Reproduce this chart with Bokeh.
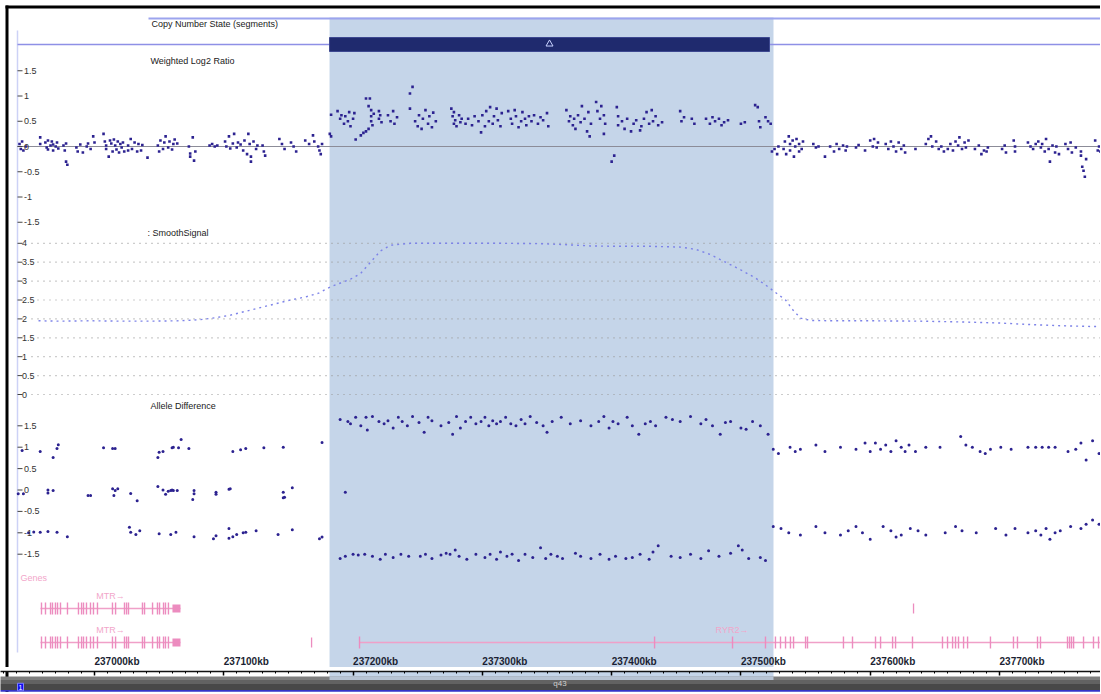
from bokeh.plotting import figure
from bokeh.models import Range1d, LinearAxis, SingleIntervalTicker, BoxAnnotation, CustomLabelingPolicy
from bokeh.layouts import column
from bokeh.core.properties import value
from bokeh.embed import file_html
from bokeh.resources import INLINE

# ---------------- data (kb positions on chr1) ----------------
CN_SEG_START = [237181.8]
CN_SEG_END = [237522.1]
SELECTION_KB = [237181.8, 237525.2]

LOG2_TICKS = [1.5, 1, 0.5, 0, -0.5, -1, -1.5]
SMOOTH_TICKS = [4, 3.5, 3, 2.5, 2, 1.5, 1, 0.5, 0]
ALLELE_TICKS = [1.5, 1, 0.5, 0, -0.5, -1, -1.5]
X_TICKS_KB = [237000, 237100, 237200, 237300, 237400, 237500, 237600, 237700]
X_TICK_LABELS = ["237000kb", "237100kb", "237200kb", "237300kb", "237400kb", "237500kb", "237600kb", "237700kb"]

LOG2_LEFT = [
    (236942, 0.05), (236943, -0.05), (236944, 0.10), (236945, -0.08), (236947, 0.00),
    (236958, 0.18), (236958, 0.05),
    (236962, 0.08), (236963, -0.02), (236964, 0.12), (236964, -0.06), (236966, 0.02), (236967, 0.10),
    (236968, -0.08), (236968, 0.04), (236970, 0.00), (236971, 0.08), (236972, -0.04),
    (236976, 0.02), (236977, -0.08), (236978, -0.30), (236979, -0.36), (236978, 0.06),
    (236986, -0.02), (236987, -0.10), (236989, 0.04), (236991, -0.12),
    (236994, 0.00), (236995, 0.06), (236997, -0.05), (236999, 0.20), (237000, 0.08),
    (237007, 0.25), (237008, 0.10), (237009, -0.05), (237009, 0.02), (237011, -0.20), (237012, 0.12),
    (237013, 0.06), (237014, -0.10), (237015, 0.14), (237016, 0.02), (237017, -0.06), (237018, 0.10),
    (237019, -0.12), (237020, 0.05), (237021, -0.02), (237022, 0.08), (237023, -0.10),
    (237026, 0.02), (237026, -0.08), (237028, 0.15), (237029, -0.05), (237031, 0.08), (237033, -0.10),
    (237034, 0.05), (237036, -0.08), (237037, 0.03),
    (237041, -0.22),
    (237049, 0.02), (237050, -0.10), (237051, 0.12), (237053, -0.05), (237054, 0.08), (237055, 0.20),
    (237057, -0.02), (237058, 0.10), (237060, -0.06), (237061, 0.05), (237062, 0.14),
    (237064, 0.06),
    (237073, 0.00), (237074, -0.14), (237074, -0.20), (237076, 0.18), (237077, -0.28), (237078, -0.10),
    (237089, 0.02), (237091, 0.05), (237093, 0.00), (237095, 0.02),
    (237101, 0.10), (237102, 0.00), (237104, 0.20), (237105, -0.04), (237107, 0.06), (237108, 0.25),
    (237110, -0.02), (237111, 0.08),
    (237113, 0.04), (237115, -0.08), (237116, 0.12), (237118, -0.15), (237119, 0.25), (237120, 0.05),
    (237121, -0.20), (237121, -0.30), (237123, 0.10), (237125, -0.05), (237126, 0.02),
    (237130, 0.02), (237131, -0.10), (237132, -0.18),
    (237143, 0.15), (237145, 0.05), (237147, -0.05),
    (237152, 0.08), (237154, 0.00), (237156, -0.10),
    (237163, 0.12), (237166, 0.05), (237169, 0.22), (237170, 0.10),
    (237173, 0.00), (237174, -0.08), (237175, -0.15), (237176, 0.05),
    (237182, 0.25),
]
LOG2_GAIN = [
    (237183, 0.63), (237183, 0.20),
    (237188, 0.70), (237190, 0.55), (237191, 0.62), (237193, 0.45), (237194, 0.60), (237196, 0.50),
    (237197, 0.68), (237198, 0.40), (237200, 0.55), (237201, 0.66), (237202, 0.14),
    (237206, 0.22), (237208, 0.27), (237210, 0.30), (237212, 0.35),
    (237210, 0.95), (237213, 0.95), (237212, 0.80),
    (237214, 0.72), (237214, 0.60), (237214, 0.50), (237215, 0.42), (237216, 0.65),
    (237220, 0.70), (237220, 0.55), (237221, 0.62), (237222, 0.48),
    (237227, 0.62), (237229, 0.50), (237231, 0.70), (237232, 0.45), (237234, 0.58),
    (237244, 1.05), (237246, 1.18), (237244, 0.75),
    (237248, 0.50), (237250, 0.40), (237251, 0.62), (237253, 0.35), (237254, 0.55), (237256, 0.72),
    (237258, 0.45), (237259, 0.60), (237261, 0.38), (237262, 0.67), (237264, 0.50),
    (237276, 0.75), (237277, 0.60), (237278, 0.45), (237278, 0.68), (237279, 0.52), (237280, 0.40),
    (237282, 0.62), (237283, 0.48), (237284, 0.55),
    (237287, 0.45), (237289, 0.55), (237292, 0.42), (237294, 0.60),
    (237297, 0.50), (237299, 0.28), (237300, 0.62), (237302, 0.40), (237303, 0.70), (237305, 0.50),
    (237306, 0.78), (237308, 0.45), (237309, 0.60), (237311, 0.75), (237312, 0.52), (237314, 0.40),
    (237315, 0.66),
    (237320, 0.70), (237322, 0.55), (237323, 0.45), (237325, 0.72), (237326, 0.60), (237328, 0.38),
    (237330, 0.50), (237331, 0.68), (237333, 0.55), (237334, 0.42), (237336, 0.60),
    (237338, 0.50), (237340, 0.62), (237343, 0.45), (237345, 0.58), (237347, 0.52), (237350, 0.66),
    (237351, 0.40),
    (237365, 0.72), (237367, 0.50), (237368, 0.60), (237370, 0.42), (237371, 0.55), (237372, 0.35),
    (237374, 0.62), (237376, 0.48), (237377, 0.80), (237379, 0.55), (237381, 0.30), (237382, 0.68),
    (237383, 0.20), (237384, 0.45),
    (237388, 0.88), (237389, 0.70), (237391, 0.55), (237392, 0.80), (237394, 0.25), (237394, 0.62),
    (237395, 0.45),
    (237400, -0.30), (237402, -0.18),
    (237404, 0.78), (237405, 0.60), (237405, 0.42),
    (237408, 0.50), (237410, 0.35), (237412, 0.55), (237415, 0.30), (237417, 0.45), (237419, 0.52),
    (237422, 0.32), (237423, 0.40),
    (237425, 0.55), (237427, 0.68), (237429, 0.45), (237431, 0.72), (237432, 0.50), (237434, 0.60),
    (237436, 0.42), (237439, 0.48),
    (237453, 0.70), (237454, 0.50), (237456, 0.58),
    (237462, 0.55), (237464, 0.45),
    (237473, 0.55), (237476, 0.45), (237478, 0.58), (237480, 0.50), (237483, 0.55), (237485, 0.42),
    (237487, 0.48), (237490, 0.52),
    (237500, 0.45), (237503, 0.48),
    (237511, 0.82), (237513, 0.78), (237514, 0.50), (237515, 0.38),
    (237519, 0.58), (237521, 0.50), (237523, 0.45),
]
LOG2_RIGHT = [
    (237524, -0.10), (237526, -0.05), (237528, -0.15), (237529, 0.00),
    (237533, -0.05), (237534, 0.10), (237535, -0.15), (237537, 0.20), (237538, 0.05), (237538, -0.08),
    (237540, 0.12), (237541, -0.20), (237542, 0.00), (237543, 0.15), (237545, -0.10), (237545, 0.05),
    (237547, -0.05), (237548, 0.10),
    (237556, 0.05), (237558, -0.02), (237560, 0.00),
    (237565, -0.20),
    (237569, 0.00), (237572, -0.10), (237574, 0.05), (237576, -0.05), (237579, 0.02), (237581, -0.08),
    (237582, 0.00),
    (237589, -0.02), (237591, 0.03),
    (237596, -0.08),
    (237600, 0.12), (237602, 0.00), (237603, 0.15), (237605, -0.02), (237606, 0.08),
    (237612, 0.05), (237614, -0.05), (237616, 0.10), (237618, 0.00), (237620, -0.10), (237622, 0.08),
    (237624, -0.05), (237626, 0.02), (237627, -0.12),
    (237635, -0.05),
    (237643, 0.05), (237645, 0.15), (237647, 0.20), (237648, 0.00), (237651, 0.10),
    (237653, -0.05), (237655, 0.00), (237657, -0.10), (237660, -0.05), (237662, 0.05), (237664, -0.08),
    (237666, 0.10), (237668, 0.02), (237669, 0.18), (237671, -0.05), (237673, 0.08), (237674, -0.02),
    (237676, 0.12),
    (237681, -0.05), (237684, 0.02), (237686, -0.15), (237688, -0.08), (237690, -0.10), (237691, -0.02),
    (237702, -0.05), (237704, 0.02), (237705, -0.12),
    (237711, 0.12), (237712, -0.10), (237712, 0.00),
    (237722, 0.08), (237724, 0.00), (237726, -0.05), (237728, 0.05),
    (237730, 0.10), (237732, -0.02), (237733, 0.05), (237735, -0.10), (237736, 0.15), (237738, -0.05),
    (237739, -0.30), (237741, 0.02), (237743, -0.12), (237744, 0.00), (237746, -0.15),
    (237751, 0.05), (237753, -0.05), (237755, 0.08), (237756, -0.12), (237759, -0.02),
    (237763, -0.10), (237763, -0.18), (237764, -0.40), (237765, -0.48), (237766, -0.60), (237767, -0.25),
    (237774, 0.12), (237776, -0.08), (237777, 0.00), (237778, -0.10),
]

SMOOTH_KB = [236956.7, 236973.7, 236996.9, 237020.1, 237043.3, 237066.5, 237082.0, 237093.6, 237105.2,
             237116.8, 237128.4, 237140.0, 237151.6, 237163.2, 237173.3, 237182.6, 237190.3, 237198.0,
             237205.8, 237213.5, 237221.2, 237229.0, 237244.4, 237275.4, 237314.1, 237345.0, 237360.5,
             237383.7, 237406.9, 237430.1, 237453.3, 237464.9, 237476.5, 237488.1, 237499.7, 237511.3,
             237519.0, 237526.7, 237534.5, 237539.9, 237546.1, 237553.8, 237569.3, 237600.2, 237638.9,
             237669.8, 237700.8, 237724.0, 237747.2, 237770.4, 237778.9]
SMOOTH_SIGNAL = [1.95, 1.94, 1.95, 1.94, 1.94, 1.95, 1.98, 2.03, 2.10,
                 2.20, 2.30, 2.40, 2.50, 2.58, 2.68, 2.85, 2.95, 3.05,
                 3.20, 3.50, 3.80, 3.95, 4.00, 4.00, 4.00, 3.99, 3.97,
                 3.93, 3.92, 3.92, 3.90, 3.84, 3.70, 3.50, 3.30, 3.08,
                 2.90, 2.70, 2.50, 2.25, 2.02, 1.96, 1.95, 1.95, 1.94,
                 1.92, 1.89, 1.85, 1.82, 1.80, 1.80]

ALLELE_LEFT = [
    (236944, 0.92), (236958, 0.90), (236968, 0.76), (236971, 0.97), (236972, 1.06), (237007, 0.99),
    (237014, 0.97), (237016, 0.97), (237049, 0.76), (237050, 0.88), (237053, 0.90), (237060, 0.99),
    (237061, 1.00), (237067, 1.18), (237065, 0.99), (237073, 0.97), (237107, 0.90), (237113, 0.94),
    (237117, 0.97), (237131, 0.99), (237146, 1.00), (237176, 1.11),
    (236941, -0.09), (236945, -0.09), (236964, 0.00), (236964, -0.07), (236968, -0.01), (236995, -0.13),
    (236997, -0.13), (237014, 0.03), (237015, -0.13), (237016, -0.01), (237018, 0.03), (237028, -0.08),
    (237033, -0.25), (237049, 0.08), (237053, 0.00), (237055, -0.10), (237057, -0.03), (237059, -0.01),
    (237060, 0.00), (237061, -0.01), (237064, -0.01), (237077, -0.01), (237077, -0.09), (237076, -0.22),
    (237094, -0.05), (237094, -0.10), (237104, 0.02), (237105, 0.03), (237146, -0.05), (237146, -0.18),
    (237147, -0.17), (237153, 0.05),
    (236949, -1.00), (236953, -0.98), (236958, -0.99), (236964, -0.97), (236971, -0.99), (236979, -1.09),
    (237027, -0.87), (237028, -0.99), (237032, -1.04), (237035, -0.95), (237050, -1.02), (237059, -1.04),
    (237063, -0.99), (237077, -1.09), (237092, -1.14), (237094, -1.07), (237104, -0.90), (237104, -1.13),
    (237107, -1.09), (237110, -1.04), (237115, -1.00), (237117, -0.99), (237125, -0.95), (237142, -1.04),
    (237153, -0.93), (237174, -1.14), (237176, -1.10),
]
ALLELE_GAIN = [
    (237190, 1.65), (237196, 1.60), (237198, 1.55), (237202, 1.70), (237206, 1.50), (237210, 1.70),
    (237211, 1.40), (237215, 1.72), (237220, 1.60), (237224, 1.55), (237227, 1.62), (237231, 1.45),
    (237235, 1.70), (237238, 1.60), (237242, 1.50), (237246, 1.72), (237251, 1.58), (237255, 1.35),
    (237258, 1.70), (237261, 1.62), (237268, 1.50), (237274, 1.58), (237277, 1.30), (237280, 1.72),
    (237283, 1.45), (237287, 1.60), (237291, 1.70), (237295, 1.55), (237299, 1.60), (237302, 1.70),
    (237305, 1.50), (237308, 1.62), (237311, 1.55), (237314, 1.60), (237318, 1.70), (237322, 1.55),
    (237326, 1.50), (237330, 1.65), (237333, 1.55), (237337, 1.72), (237342, 1.58), (237347, 1.50),
    (237350, 1.35), (237354, 1.60), (237361, 1.70), (237368, 1.55), (237376, 1.62), (237384, 1.50),
    (237390, 1.60), (237394, 1.72), (237398, 1.45), (237401, 1.60), (237405, 1.55), (237412, 1.70),
    (237416, 1.50), (237421, 1.30), (237426, 1.55), (237430, 1.60), (237434, 1.50), (237442, 1.70),
    (237447, 1.65), (237453, 1.60), (237461, 1.72), (237469, 1.55), (237473, 1.65), (237478, 1.50),
    (237484, 1.30), (237488, 1.58), (237492, 1.60), (237500, 1.45), (237504, 1.42), (237509, 1.60),
    (237515, 1.50), (237521, 1.30),
    (237194, -0.05),
    (237190, -1.60), (237194, -1.55), (237200, -1.50), (237204, -1.52), (237209, -1.50), (237215, -1.55),
    (237221, -1.62), (237225, -1.50), (237231, -1.58), (237237, -1.50), (237243, -1.55), (237252, -1.55),
    (237256, -1.50), (237261, -1.60), (237268, -1.52), (237272, -1.48), (237275, -1.50), (237279, -1.40),
    (237282, -1.55), (237288, -1.62), (237295, -1.50), (237302, -1.58), (237306, -1.50), (237311, -1.62),
    (237314, -1.45), (237319, -1.55), (237323, -1.50), (237328, -1.65), (237333, -1.50), (237339, -1.58),
    (237345, -1.35), (237349, -1.60), (237353, -1.50), (237358, -1.55), (237362, -1.60), (237372, -1.48),
    (237376, -1.55), (237384, -1.60), (237391, -1.50), (237398, -1.62), (237403, -1.55), (237411, -1.60),
    (237416, -1.58), (237422, -1.50), (237429, -1.62), (237432, -1.45), (237436, -1.30), (237446, -1.55),
    (237453, -1.58), (237461, -1.50), (237469, -1.60), (237475, -1.42), (237483, -1.55), (237492, -1.48),
    (237498, -1.30), (237501, -1.40), (237506, -1.60), (237515, -1.58), (237519, -1.65),
]
ALLELE_RIGHT = [
    (237525, 0.95), (237529, 0.85), (237538, 1.00), (237542, 0.90), (237546, 0.95), (237558, 1.05),
    (237565, 0.90), (237577, 1.00), (237589, 0.95), (237596, 1.10), (237600, 0.90), (237604, 1.10),
    (237608, 0.95), (237612, 1.05), (237616, 0.90), (237620, 1.15), (237624, 1.00), (237627, 0.90),
    (237630, 1.05), (237635, 0.90), (237643, 1.00), (237654, 1.00), (237670, 1.25), (237674, 1.05),
    (237679, 1.00), (237685, 0.90), (237689, 0.85), (237693, 0.95), (237701, 1.00), (237709, 0.95),
    (237722, 1.00), (237728, 1.00), (237733, 1.00), (237738, 1.00), (237743, 1.00), (237753, 0.90),
    (237759, 0.95), (237763, 1.10), (237767, 0.70), (237772, 1.15), (237777, 0.85),
    (237525, -0.85), (237531, -0.90), (237537, -1.00), (237546, -1.05), (237558, -0.85), (237565, -1.00),
    (237577, -1.05), (237583, -0.95), (237589, -0.85), (237594, -1.00), (237600, -1.15), (237610, -0.85),
    (237616, -0.95), (237620, -1.10), (237624, -1.05), (237631, -0.90), (237637, -0.95), (237643, -1.05),
    (237658, -1.00), (237666, -0.85), (237671, -0.95), (237682, -1.00), (237697, -0.90), (237705, -1.05),
    (237712, -0.90), (237722, -1.00), (237728, -0.95), (237732, -1.05), (237736, -0.90), (237739, -1.15),
    (237743, -1.00), (237747, -0.95), (237755, -0.85), (237763, -0.90), (237767, -0.80), (237772, -0.70),
    (237777, -0.80),
]

# genes: name, row, start, end, exon positions, 3' box, label position
MTR_EXONS = [236959.0, 236962.1, 236966.0, 236967.5, 236969.8, 236971.4, 236973.7, 236979.1, 236987.6,
             236990.0, 236991.5, 236993.8, 236996.9, 236999.2, 237002.3, 237013.9, 237016.3, 237023.2,
             237024.8, 237026.3, 237037.1, 237038.7, 237044.9, 237048.7, 237050.3, 237053.4, 237054.9,
             237057.2]
RYR2_EXONS = [237205.0, 237433.2, 237493.5, 237519.0, 237526.7, 237530.6, 237534.5, 237538.3, 237540.7,
              237550.0, 237551.5, 237579.3, 237586.3, 237604.1, 237608.0, 237617.3, 237619.6, 237632.7,
              237655.9, 237659.8, 237663.7, 237666.0, 237668.3, 237672.2, 237675.3, 237693.0, 237710.8,
              237713.9, 237729.4, 237731.7, 237752.6, 237754.2, 237755.7, 237757.3, 237765.0, 237772.7,
              237776.6]
TRANSCRIPTS = [
    dict(name="MTR\u2192", row=1, start=236958.2, end=237066.5, exons=MTR_EXONS, box=(237060.3, 237066.5), label_kb=237012.3),
    dict(name="MTR\u2192", row=2, start=236958.2, end=237066.5, exons=MTR_EXONS, box=(237060.3, 237066.5), label_kb=237012.3),
    dict(name="RYR2\u2192", row=2, start=237205.0, end=237900.0, exons=RYR2_EXONS, box=None, label_kb=237493.1),
]
LONE_FEATURES = [(2, 237167.9), (1, 237633.5)]

CYTOBAND = dict(name="q43", start=236400.0, end=240700.0, label_kb=237360.0)

# ---------------- layout / styling ----------------
FONT = value("Liberation Sans")
W = 1100
MAIN_BOTTOM = 667           # page row where the main panel ends (axis line)
PAGE_BOTTOM = 692
PX_PER_KB = 1.29286


def kb_at(px):
    """page pixel column -> kb (layout helper only)"""
    return 237000 + (px - 94) / PX_PER_KB


def track_range(y_zero_px, px_per_unit):
    return Range1d(start=(y_zero_px - MAIN_BOTTOM) / px_per_unit, end=(y_zero_px - 0) / px_per_unit)


HL = "#C5D5E9"
PT = "#2C2290"
PINK_LINE = "#F0A0C8"
PINK_EXON = "#EC8CBF"
PINK_TEXT = "#F2A6CA"

xr = Range1d(kb_at(0), kb_at(W))
p = figure(width=W, height=MAIN_BOTTOM, x_range=xr, y_range=Range1d(MAIN_BOTTOM, 0),
           min_border=0, x_axis_type=None, y_axis_type=None, toolbar_location=None,
           output_backend="svg", outline_line_color=None)
p.extra_y_ranges = {
    "log2": track_range(146, 50.5),
    "smooth": track_range(394, 37.8),
    "allele": track_range(489.5, 42.8),
}

# selection highlight
p.quad(left=[SELECTION_KB[0]], right=[SELECTION_KB[1]], top=[17], bottom=[MAIN_BOTTOM],
       fill_color=HL, line_color=None)

# frame lines
p.segment(x0=[kb_at(6.5)], y0=[5], x1=[kb_at(6.5)], y1=[MAIN_BOTTOM], line_color="black", line_width=3)
p.segment(x0=[kb_at(5)], y0=[6.5], x1=[xr.end], y1=[6.5], line_color="black", line_width=3)
p.segment(x0=[kb_at(17)], y0=[30], x1=[kb_at(17)], y1=[652], line_color="#CDD2F6", line_width=1.5)


def titles(xs, ys, texts, color="#1A1A1A", size="9px", align="left", y_range_name="default", style="normal"):
    p.text(x=xs, y=ys, text=texts, text_font=FONT, text_font_size=size, text_color=color,
           text_baseline="middle", text_align=align, y_range_name=y_range_name, text_font_style=style)


# ---- copy number state track ----
p.segment(x0=[kb_at(148)], y0=[18], x1=[xr.end], y1=[18], line_color="#9CA4EE", line_width=2)
p.segment(x0=[kb_at(17)], y0=[44], x1=[xr.end], y1=[44], line_color="#8E90E6", line_width=1.5)
p.quad(left=CN_SEG_START, right=CN_SEG_END, top=[37] * len(CN_SEG_START), bottom=[51] * len(CN_SEG_START),
       fill_color="#1F2A6E", line_color="#3D4890")
p.scatter(x=[(s + e) / 2 for s, e in zip(CN_SEG_START, CN_SEG_END)], y=[43.5] * len(CN_SEG_START),
          marker="triangle", size=7, fill_color=None, line_color="#C8D2FF", line_width=1)
titles([kb_at(151)], [23], ["Copy Number State (segments)"])

# ---- weighted log2 ratio ----
titles([kb_at(150)], [60], ["Weighted Log2 Ratio"])
p.segment(x0=[kb_at(17)], y0=[0], x1=[xr.end], y1=[0], line_color="#8C8C98", line_width=1, y_range_name="log2")
log2 = LOG2_LEFT + LOG2_GAIN + LOG2_RIGHT
p.scatter(x=[k for k, v in log2], y=[v for k, v in log2], marker="square", size=2.6,
          fill_color=PT, line_color=None, y_range_name="log2")
p.scatter(x=[kb_at(19.5)] * len(LOG2_TICKS), y=LOG2_TICKS, marker="dash", size=5, line_color="#444444",
          y_range_name="log2")
titles([kb_at(23.5)] * len(LOG2_TICKS), LOG2_TICKS, [f"{t:g}" for t in LOG2_TICKS], color="#333333",
       y_range_name="log2")

# ---- smooth signal ----
titles([kb_at(147)], [232], [": SmoothSignal"])
for t in SMOOTH_TICKS:
    p.segment(x0=[kb_at(31)], y0=[t], x1=[xr.end], y1=[t], line_color="#9A9A9A", line_width=1.2,
              line_dash="1 5", y_range_name="smooth")
p.line(SMOOTH_KB, SMOOTH_SIGNAL, line_color="#7D83E8", line_width=1.4, line_dash="2 4", y_range_name="smooth")
p.scatter(x=[kb_at(19.5)] * len(SMOOTH_TICKS), y=SMOOTH_TICKS, marker="dash", size=5, line_color="#444444",
          y_range_name="smooth")
titles([kb_at(21.5)] * len(SMOOTH_TICKS), SMOOTH_TICKS, [f"{t:g}" for t in SMOOTH_TICKS], color="#333333",
       y_range_name="smooth")

# ---- allele difference ----
titles([kb_at(150)], [405], ["Allele Difference"])
allele = ALLELE_LEFT + ALLELE_GAIN + ALLELE_RIGHT
p.scatter(x=[k for k, v in allele], y=[v for k, v in allele], marker="circle", size=3.0,
          fill_color=PT, line_color=None, y_range_name="allele")
p.scatter(x=[kb_at(19.5)] * len(ALLELE_TICKS), y=ALLELE_TICKS, marker="dash", size=5, line_color="#444444",
          y_range_name="allele")
titles([kb_at(23.5)] * len(ALLELE_TICKS), ALLELE_TICKS, [f"{t:g}" for t in ALLELE_TICKS], color="#333333",
       y_range_name="allele")

# ---- genes ----
ROW_Y = {1: 608, 2: 642}
titles([kb_at(20)], [577], ["Genes"], color=PINK_TEXT)
for tr in TRANSCRIPTS:
    y = ROW_Y[tr["row"]]
    p.segment(x0=[tr["start"]], y0=[y], x1=[tr["end"]], y1=[y], line_color=PINK_LINE, line_width=1.3)
    n = len(tr["exons"])
    p.segment(x0=tr["exons"], y0=[y - 6] * n, x1=tr["exons"], y1=[y + 6] * n, line_color=PINK_EXON,
              line_width=1.4)
    if tr["box"]:
        p.quad(left=[tr["box"][0]], right=[tr["box"][1]], top=[y - 4], bottom=[y + 4],
               fill_color=PINK_EXON, line_color=None)
    titles([tr["label_kb"]], [y - 13], [tr["name"]], color=PINK_TEXT, align="center")
for row, kb in LONE_FEATURES:
    y = ROW_Y[row]
    p.segment(x0=[kb], y0=[y - 5], x1=[kb], y1=[y + 5], line_color=PINK_EXON, line_width=1.3)

# ---- position labels (left-aligned at their ticks, above the axis line) ----
titles(X_TICKS_KB, [660.5] * len(X_TICKS_KB), X_TICK_LABELS, color="#1B1F33", size="10px", style="bold")

# ---------------- bottom: position axis + cytoband ----------------
pb = figure(width=W, height=PAGE_BOTTOM - MAIN_BOTTOM, x_range=xr, y_range=Range1d(PAGE_BOTTOM, MAIN_BOTTOM),
            min_border=0, x_axis_type=None, y_axis_type=None, toolbar_location=None, output_backend="svg",
            outline_line_color=None)
pb.add_layout(BoxAnnotation(left=SELECTION_KB[0], right=SELECTION_KB[1], top=MAIN_BOTTOM, bottom=677,
                            fill_color=HL, fill_alpha=1, line_color=None, level="underlay"))
xa = LinearAxis(ticker=SingleIntervalTicker(interval=100, num_minor_ticks=10),
                major_label_policy=CustomLabelingPolicy(code="return new Set()"))
xa.major_label_text_font_size = "1px"
xa.major_label_standoff = 0
xa.major_tick_in = 4
xa.major_tick_out = 0
xa.minor_tick_in = 2
xa.minor_tick_out = 0
xa.axis_line_width = 1.5
xa.major_tick_line_width = 1.5
xa.axis_line_color = "#111111"
pb.add_layout(xa, "above")

pb.segment(x0=[kb_at(6.5)], y0=[MAIN_BOTTOM], x1=[kb_at(6.5)], y1=[PAGE_BOTTOM], line_color="black", line_width=3)
pb.quad(left=[CYTOBAND["start"]] * 3, right=[CYTOBAND["end"]] * 3, top=[673, 677, 682], bottom=[677, 682, 689],
        fill_color=["#7E7E7E", "#626262", "#484848"], line_color=None)
pb.quad(left=[CYTOBAND["start"]], right=[CYTOBAND["end"]], top=[689], bottom=[691],
        fill_color="#3434C8", line_color=None)
# selection tint continuing over the top edge of the band
pb.quad(left=[SELECTION_KB[0]], right=[SELECTION_KB[1]], top=[673], bottom=[677],
        fill_color=HL, fill_alpha=0.8, line_color=None)
pb.text(x=[CYTOBAND["label_kb"]], y=[681], text=[CYTOBAND["name"]], text_font=FONT, text_font_size="8px",
        text_color="#D0D0D0", text_align="center", text_baseline="middle")
pb.quad(left=[kb_at(17)], right=[kb_at(23)], top=[681], bottom=[690], fill_color="#1010F0", line_color="#8080FF")
pb.text(x=[kb_at(20)], y=[685.5], text=["1"], text_font=FONT, text_font_size="7px", text_color="white",
        text_align="center", text_baseline="middle")

layout = column(p, pb, spacing=0)
open("out.html", "w").write(file_html(layout, INLINE))
